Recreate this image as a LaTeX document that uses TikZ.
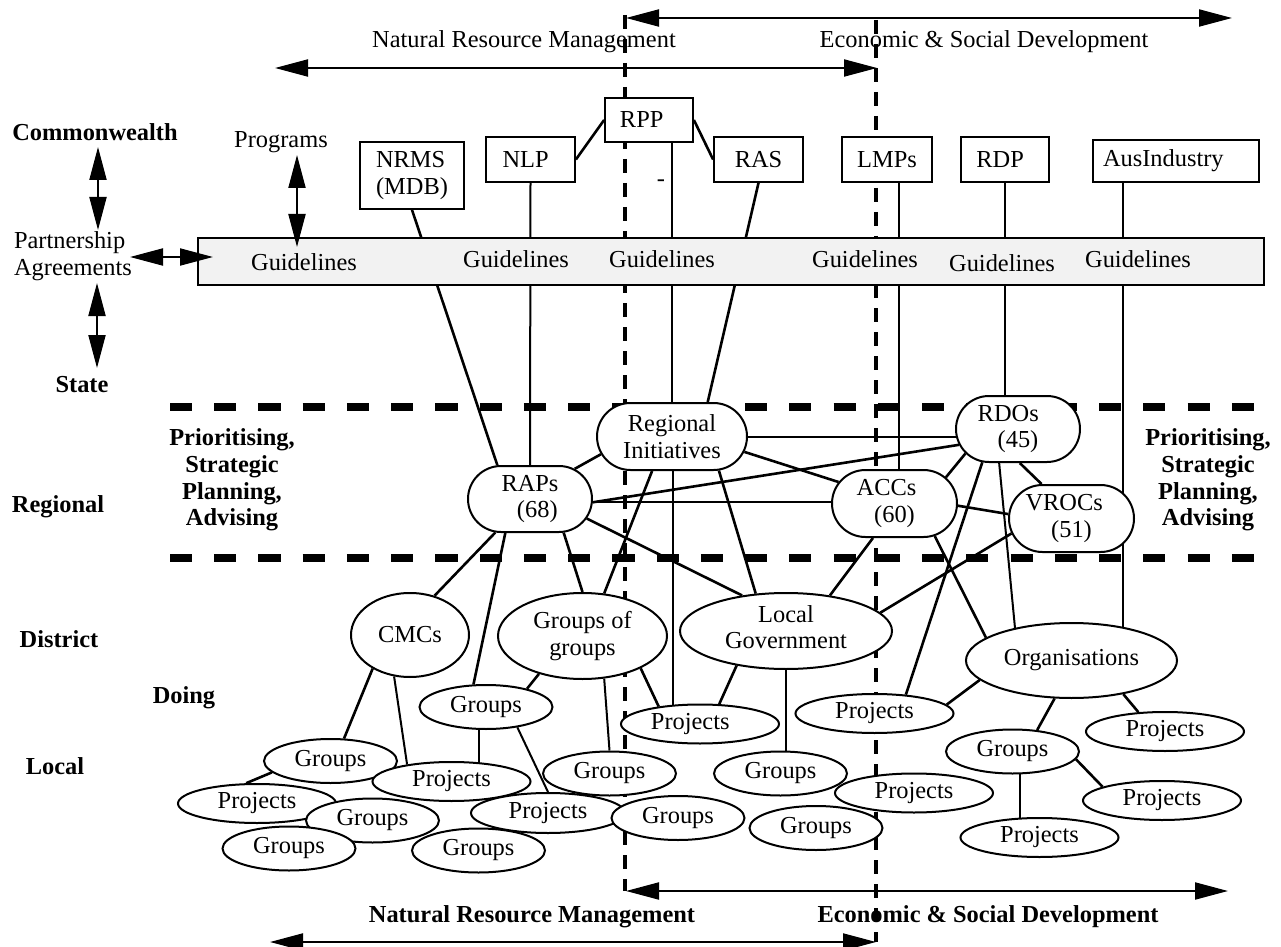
\documentclass[tikz,border=0pt]{standalone}
\usepackage{fontspec}
\setmainfont{Liberation Serif}
\usetikzlibrary{arrows.meta,shapes.geometric,shapes.misc,calc,backgrounds}
\begin{document}
\begin{tikzpicture}[x=0.5pt,y=-0.5pt,
  font=\fontsize{12.2}{13.4}\selectfont,
  box/.style={draw, line width=0.9pt, fill=white, inner sep=0pt},
  rbox/.style={rounded rectangle, draw, line width=1pt, fill=white, inner xsep=-10pt, inner ysep=0pt, align=center, minimum width=42.5pt, minimum height=33.5pt},
  ell/.style={ellipse, draw, line width=1pt, fill=white, inner sep=0pt, align=center},
  grp/.style={ell, minimum width=66.5pt, minimum height=22pt},
  prj/.style={ell, minimum width=79pt, minimum height=19.5pt},
  cthin/.style={line width=1pt},
  cthick/.style={line width=1.3pt},
  lbl/.style={font=\fontsize{12.2}{13.4}\selectfont\bfseries},
  dbl/.style={line width=1pt, {Triangle[length=16.5pt,width=8.5pt]}-{Triangle[length=16.5pt,width=8.5pt]}},
  regdash/.style={line width=4pt, dash pattern=on 11.06pt off 11.06pt},
  vdash/.style={line width=2pt, dash pattern=on 7pt off 5pt}
]
\useasboundingbox (0,0) rectangle (1281,947);

% ---------- labels ----------
\node (nrmtop) at (524,42) {Natural Resource Management};
\node (esdtop) at (984,42) {Economic \& Social Development};
\node[lbl] (nrmbot) at (532,917) {Natural Resource Management};
\node[lbl] (esdbot) at (988,917) {Economic \& Social Development};
\node[lbl] (cw) at (95,132) {Commonwealth};
\node[anchor=west, align=left] (pa) at (7,256) {Partnership\\Agreements};
\node[lbl] (st) at (82,385) {State};
\node (prog) at (281,142) {Programs};
\node[lbl, align=center] (prl) at (232,480) {Prioritising,\\Strategic\\Planning,\\Advising};
\node[lbl, align=center] (prr) at (1208,480) {Prioritising,\\Strategic\\Planning,\\Advising};
\node[lbl] (reg) at (58,507) {Regional};
\node[lbl] (dis) at (59,639) {District};
\node[lbl] (doing) at (184,698) {Doing};
\node[lbl] (loc) at (55,766) {Local};
\node (dashmark) at (661,183) {-};

% ---------- top boxes ----------
\node[box, minimum width=52pt, minimum height=33.5pt, align=left] (nrms) at (412,175.5) {NRMS\\(MDB)};
\node[box, minimum width=44.5pt, minimum height=22.5pt] (nlp) at (530.5,159.5) {NLP\hspace*{0.4em}};
\node[box, minimum width=44pt, minimum height=22pt] (rpp) at (649,120) {RPP\hspace*{0.6em}};
\node[box, minimum width=44.5pt, minimum height=22.5pt] (ras) at (758.5,159.5) {RAS};
\node[box, minimum width=45pt, minimum height=22.5pt] (lmps) at (887,159.5) {LMPs};
\node[box, minimum width=44pt, minimum height=22.5pt] (rdp) at (1005,159.5) {RDP\hspace*{0.4em}};
\node[box, minimum width=83pt, minimum height=21pt, text width=73pt, align=left] (ausind) at (1176,161) {AusIndustry};

% ---------- guidelines bar ----------
\node[draw, fill=gray!10, line width=1pt, minimum width=533pt, minimum height=23.5pt, inner sep=0pt] (bar) at (731,261.5) {};
\node (gl1) at (304,262) {Guidelines};
\node (gl2) at (516,259) {Guidelines};
\node (gl3) at (662,259) {Guidelines};
\node (gl4) at (865,259) {Guidelines};
\node (gl5) at (1002,263) {Guidelines};
\node (gl6) at (1138,259) {Guidelines};

% ---------- regional ----------
\node[rbox, minimum width=55pt] (ri) at (672,436.5) {Regional\\Initiatives};
\node[rbox, minimum width=42pt, minimum height=33pt] (raps) at (530,499) {RAPs\\\hspace*{0.6em}(68)};
\node[rbox, minimum width=42pt, minimum height=33pt] (rdos) at (1018,429) {RDOs\hspace*{0.8em}\\(45)};
\node[rbox] (accs) at (894.5,503.5) {ACCs\hspace*{0.65em}\\(60)};
\node[rbox] (vrocs) at (1071.5,518.5) {VROCs\hspace*{0.6em}\\(51)};

% ---------- district ----------
\node[ell, minimum width=59pt, minimum height=42pt] (cmcs) at (410,635) {CMCs};
\node[ell, minimum width=84.5pt, minimum height=43pt] (gog) at (582.5,636) {Groups of\\groups};
\node[ell, minimum width=106pt, minimum height=38pt, text depth=4pt] (lg) at (786,631) {Local\\Government};
\node[ell, minimum width=105.5pt, minimum height=37.5pt] (org) at (1071.5,660.5) {Organisations};

% ---------- local ----------
\node[grp] (g1) at (486,707) {Groups};
\node[grp] (g6) at (330.5,761) {Groups};
\node[prj] (p1) at (451.5,781.5) {Projects};
\node[prj] (p5) at (257,803.5) {Projects};
\node[grp] (g7) at (372.5,820.5) {Groups};
\node[grp] (g8) at (289,848.5) {Groups};
\node[grp] (g9) at (478.5,850.5) {Groups};
\node[grp] (g2) at (609.5,773.5) {Groups};
\node[prj, minimum width=77pt, minimum height=20pt] (p6) at (548,813) {Projects};
\node[grp] (g5) at (678,818) {Groups};
\node[prj] (p2) at (700,724) {Projects\hspace*{0.8em}};
\node[grp] (g3) at (780.5,773.5) {Groups};
\node[grp] (g4) at (816,828) {Groups};
\node[prj] (p4) at (914,793) {Projects};
\node[prj] (p3) at (874.5,713.5) {Projects};
\node[grp] (g10) at (1012.5,751.5) {Groups};
\node[prj] (p7) at (1165,731.5) {Projects};
\node[prj] (p8) at (1162,800.5) {Projects};
\node[prj] (p9) at (1039.5,837.5) {Projects};

% ---------- arrows ----------
\coordinate (cwA) at (98,147); \coordinate (cwB) at (98,230);
\coordinate (paA) at (130,257); \coordinate (paB) at (213,257);
\coordinate (stA) at (97,283); \coordinate (stB) at (97,368);
\coordinate (prA) at (297,155); \coordinate (prB) at (297,247);
\coordinate (tA) at (626,18); \coordinate (tB) at (1232,18);
\coordinate (nA) at (275,68); \coordinate (nB) at (877,68);
\coordinate (bA) at (626,891); \coordinate (bB) at (1228,891);
\coordinate (cA) at (270,942); \coordinate (cB) at (876,942);
\draw[dbl] (cwA) -- (cwB);
\draw[dbl] (paA) -- (paB);
\draw[dbl] (stA) -- (stB);
\draw[dbl] (prA) -- (prB);
\draw[dbl] (tA) -- (tB);
\draw[dbl] (nA) -- (nB);
\draw[dbl] (bA) -- (bB);
\draw[dbl] (cA) -- (cB);

% ---------- background: dashes and connectors ----------
\begin{scope}[on background layer]
\coordinate (rdL1) at (170,407); \coordinate (rdR1) at (1254,407);
\coordinate (rdL2) at (170,558); \coordinate (rdR2) at (1254,558);
\draw[regdash] (rdL1) -- (rdR1);
\draw[regdash] (rdL2) -- (rdR2);
\coordinate (vlT) at (625,15); \coordinate (vlB) at (625,891);
\coordinate (vrT) at (876,20); \coordinate (vrB) at (876,942);
\draw[vdash] (vlT) -- (vlB);
\draw[vdash] (vrT) -- (vrB);

\draw[cthick] (nrms.south) -- (raps.134);
\draw[cthin] (nlp.south) -- (raps.north);
\draw[cthick] (nlp.east) -- (rpp.west);
\draw[cthick] (rpp.east) -- (ras.west);
\draw[cthin] (ri.north |- rpp.south) -- (ri.north);
\draw[cthick] (ras.south) -- (ri.44);
\draw[cthin] ($(accs.north |- lmps.south)+(4,0)$) -- ($(accs.north)+(4,0)$);
\draw[cthin] (rdp.south) -- (rdp.south |- rdos.center);
\draw[cthin] (org.33.8 |- ausind.south) -- (org.33.8);

\draw[cthick] (ri.194.4) -- (raps.34.8);
\draw[cthick] (raps.-3) -- (rdos.195.1);
\draw[cthin] ($(raps.east)+(0,3)$) -- ($(raps.east -| accs.center)+(0,3)$);
\draw[cthick] (raps.-19.9) -- (lg.141.6);
\draw[cthick] (ri.240) -- (gog.63.4);
\draw[cthin] (p2.145.9 |- ri.center) -- (p2.145.9);
\draw[cthick] (ri.-36.5) -- (lg.129.5);
\draw[cthick] (ri.-12) -- (accs.159.4);
\draw[cthin] (ri.east) -- (ri.east -| rdos.center);
\draw[cthick] (raps.224.2) -- (cmcs.58.8);
\draw[cthick] (raps.234.8) -- (g1.119.5);
\draw[cthick] (raps.-45) -- (gog.north);

\draw[cthick] (accs.27.7) -- (rdos.205.2);
\draw[cthick] (accs.-2.3) -- (vrocs.176.7);
\draw[cthick] (accs.238) -- (lg.39.8);
\draw[cthick] (accs.-39.3) -- (org.165.3);
\draw[cthick] (rdos.-87) -- (vrocs.131.6);
\draw[cthick] (rdos.223.2) -- (p3.31);
\draw[cthin] (rdos.241) -- (org.150);
\draw[cthick] (vrocs.194.1) -- (lg.11.8);

\draw[cthick] (org.192.5) -- (p3.7.9);
\draw[cthick] (org.246) -- (g10.41.3);
\draw[cthick] (org.-33.3) -- (p7.144.6);
\draw[cthick] (g10.-7.9) -- (p8.167.2);
\draw[cthin] (g10.-72) -- (g10.-72 |- p9.center);

\draw[cthick] (lg.215.8) -- (p2.46.7);
\draw[cthin] (lg.south) -- (lg.south |- g3.center);
\draw[cthick] (gog.221) -- (g1.24.3);
\draw[cthin] (gog.-63.4) -- (g2.north);
\draw[cthick] (gog.-29.5) -- (p2.157.5);
\draw[cthick] (cmcs.222.4) -- (g6.59.2);
\draw[cthin] (cmcs.249.4) -- (p1.159.4);
\draw[cthin] (g1.-107.6) -- (g1.-107.6 |- p1.center);
\draw[cthin] (g1.-33.3) -- (p6.north);
\draw[cthick] (g6.191.8) -- (p5.118.2);
\end{scope}
\end{tikzpicture}
\end{document}
